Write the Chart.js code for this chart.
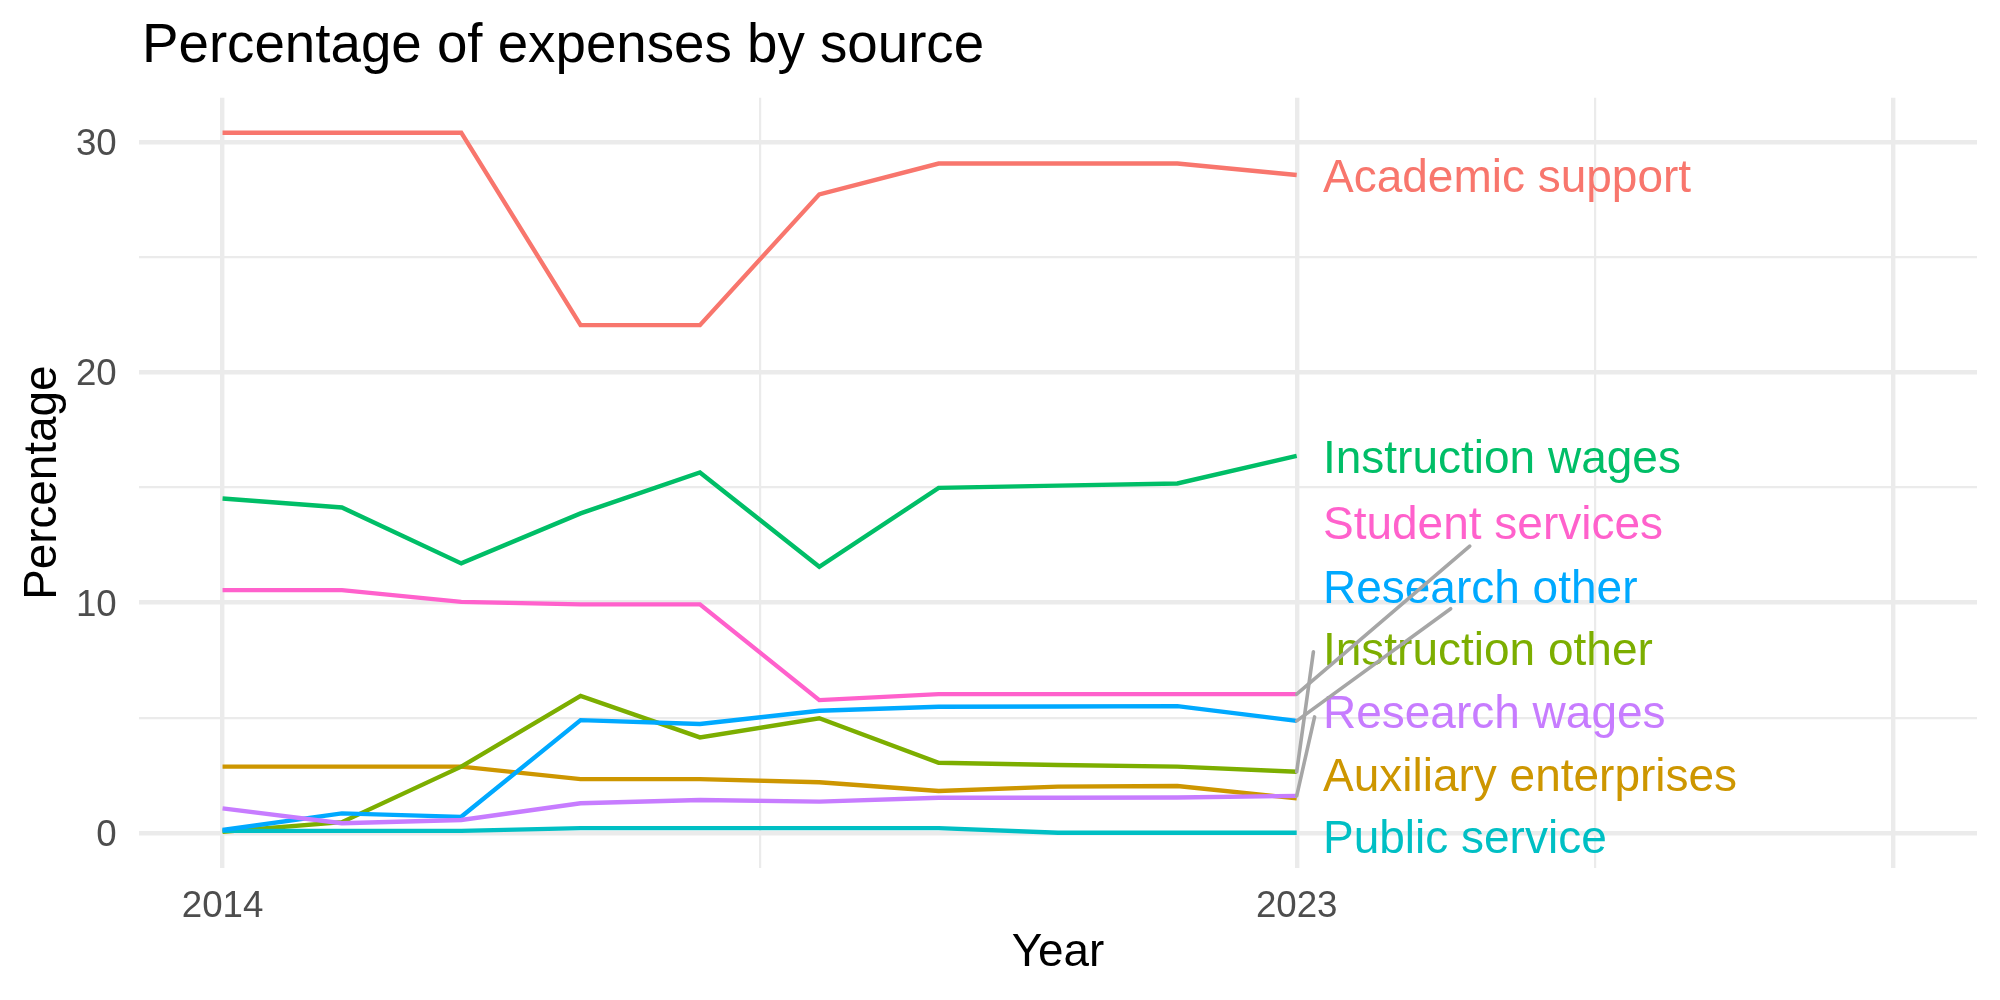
<!DOCTYPE html>
<html>
<head>
<meta charset="utf-8">
<script src="https://cdn.jsdelivr.net/npm/chart.js@4.4.1/dist/chart.umd.min.js"></script>
<style>
html, body { margin: 0; padding: 0; background: #ffffff; }
canvas { display: block; }
</style>
</head>
<body>
<canvas id="chart" width="2000" height="1000" style="width:2000px;height:1000px"></canvas>
<script>
// ---- Data ----
const years = [2014, 2015, 2016, 2017, 2018, 2019, 2020, 2021, 2022, 2023];

const academicSupport      = [30.41, 30.41, 30.41, 22.05, 22.05, 27.73, 29.07, 29.07, 29.07, 28.57];
const auxiliaryEnterprises = [2.87, 2.87, 2.87, 2.33, 2.33, 2.19, 1.81, 2.00, 2.03, 1.49];
const instructionOther     = [0.04, 0.46, 2.87, 5.94, 4.14, 4.97, 3.04, 2.94, 2.87, 2.65];
const instructionWages     = [14.52, 14.13, 11.70, 13.87, 15.65, 11.55, 14.98, 15.08, 15.17, 16.37];
const publicService        = [0.08, 0.08, 0.08, 0.20, 0.20, 0.20, 0.20, 0.00, 0.00, 0.00];
const researchOther        = [0.12, 0.84, 0.69, 4.89, 4.72, 5.30, 5.47, 5.48, 5.50, 4.86];
const researchWages        = [1.06, 0.41, 0.55, 1.28, 1.42, 1.35, 1.52, 1.52, 1.53, 1.60];
const studentServices      = [10.54, 10.54, 10.03, 9.92, 9.92, 5.76, 6.02, 6.02, 6.02, 6.02];

const seriesNames  = ['Academic support', 'Auxiliary enterprises', 'Instruction other', 'Instruction wages',
                      'Public service', 'Research other', 'Research wages', 'Student services'];
const seriesValues = [academicSupport, auxiliaryEnterprises, instructionOther, instructionWages,
                      publicService, researchOther, researchWages, studentServices];
const seriesColors = ['#F8766D', '#CD9600', '#7CAE00', '#00BE67', '#00BFC4', '#00A9FF', '#C77CFF', '#FF61CC'];

// Repelled label positions (data units)
const labelX = 2023.22;
const labelY = [28.57, 2.54, 8.02, 16.37, -0.17, 10.72, 5.29, 13.47];

// Connector segments: from series' last point to these ends (data units)
const connectorSeries = ['Student services', 'Research other', 'Instruction other', 'Research wages'];
const connectorEndX   = [2024.45, 2024.29, 2023.14, 2023.15];
const connectorEndY   = [12.45, 9.73, 7.86, 5.03];

// Axes
const xMajorBreaks = [2014, 2023, 2028];
const xMinorBreaks = [2018.5, 2025.5];
const xTickLabels  = ['2014', '2023', ''];
const yMajorBreaks = [0, 10, 20, 30];
const yMinorBreaks = [5, 15, 25];
const xLimits = [2013.3, 2028.7];
const yLimits = [-1.52, 31.93];

const chartTitle = 'Percentage of expenses by source';
const xTitle = 'Year';
const yTitle = 'Percentage';

// ---- Chart ----
const FONT = '"Liberation Sans", Arial, Helvetica, sans-serif';
const GRID = '#EBEBEB';

const datasets = seriesNames.map((name, i) => ({
  label: name,
  data: years.map((yr, j) => ({ x: yr, y: seriesValues[i][j] })),
  borderColor: seriesColors[i],
  backgroundColor: seriesColors[i],
  borderWidth: 4.4,
  pointRadius: 0,
  tension: 0,
  fill: false,
  order: seriesNames.length - i
}));

const labelPlugin = {
  id: 'repelLabels',
  afterDatasetsDraw(chart) {
    const ctx = chart.ctx;
    const xs = chart.scales.x, ys = chart.scales.y;
    ctx.save();
    // text labels
    ctx.font = '46px ' + FONT;
    ctx.textAlign = 'left';
    ctx.textBaseline = 'middle';
    seriesNames.forEach((name, i) => {
      ctx.fillStyle = seriesColors[i];
      ctx.fillText(name, xs.getPixelForValue(labelX), ys.getPixelForValue(labelY[i]) + 4);
    });
    // connector segments
    ctx.strokeStyle = '#A6A6A6';
    ctx.lineWidth = 3.6;
    ctx.lineCap = 'round';
    connectorSeries.forEach((name, k) => {
      const i = seriesNames.indexOf(name);
      const vals = seriesValues[i];
      const x0 = xs.getPixelForValue(years[years.length - 1]);
      const y0 = ys.getPixelForValue(vals[vals.length - 1]);
      ctx.beginPath();
      ctx.moveTo(x0, y0);
      ctx.lineTo(xs.getPixelForValue(connectorEndX[k]), ys.getPixelForValue(connectorEndY[k]));
      ctx.stroke();
    });
    ctx.restore();
  },
  afterDraw(chart) {
    const ctx = chart.ctx;
    ctx.save();
    ctx.font = '54.7px ' + FONT;
    ctx.fillStyle = '#000000';
    ctx.textAlign = 'left';
    ctx.textBaseline = 'alphabetic';
    ctx.fillText(chartTitle, 142, 62);
    ctx.restore();
  }
};

new Chart(document.getElementById('chart'), {
  type: 'line',
  data: { datasets },
  plugins: [labelPlugin],
  options: {
    responsive: false,
    animation: false,
    devicePixelRatio: 1,
    layout: { padding: { top: 97.7, right: 23, left: 0, bottom: 0 } },
    plugins: {
      legend: { display: false },
      tooltip: { enabled: false },
      title: { display: false }
    },
    scales: {
      x: {
        type: 'linear',
        min: xLimits[0],
        max: xLimits[1],
        afterBuildTicks: (s) => {
          s.ticks = xMajorBreaks.concat(xMinorBreaks).sort((a, b) => a - b).map(v => ({ value: v }));
        },
        afterFit: (s) => { s.height = 132.3; },
        ticks: {
          autoSkip: false,
          maxRotation: 0,
          minRotation: 0,
          padding: 17,
          color: '#4D4D4D',
          font: { family: FONT, size: 36.7 },
          callback: (v) => {
            const k = xMajorBreaks.indexOf(v);
            return k >= 0 ? xTickLabels[k] : '';
          }
        },
        grid: {
          color: GRID,
          drawTicks: false,
          lineWidth: (c) => (c.tick && xMajorBreaks.includes(c.tick.value)) ? 4.4 : 2.2
        },
        border: { display: false },
        title: {
          display: true,
          text: xTitle,
          color: '#000000',
          font: { family: FONT, size: 45.8 },
          padding: { top: 0, bottom: 19.5 }
        }
      },
      y: {
        type: 'linear',
        min: yLimits[0],
        max: yLimits[1],
        afterBuildTicks: (s) => {
          s.ticks = yMajorBreaks.concat(yMinorBreaks).sort((a, b) => a - b).map(v => ({ value: v }));
        },
        afterFit: (s) => { s.width = 139; },
        ticks: {
          padding: 22.3,
          labelOffset: 3,
          color: '#4D4D4D',
          font: { family: FONT, size: 36.7 },
          callback: (v) => yMajorBreaks.includes(v) ? String(v) : ''
        },
        grid: {
          color: GRID,
          drawTicks: false,
          lineWidth: (c) => (c.tick && yMajorBreaks.includes(c.tick.value)) ? 4.4 : 2.2
        },
        border: { display: false },
        title: {
          display: true,
          text: yTitle,
          color: '#000000',
          font: { family: FONT, size: 45.8 },
          padding: { top: 16, bottom: 0 }
        }
      }
    }
  }
});
</script>
</body>
</html>
